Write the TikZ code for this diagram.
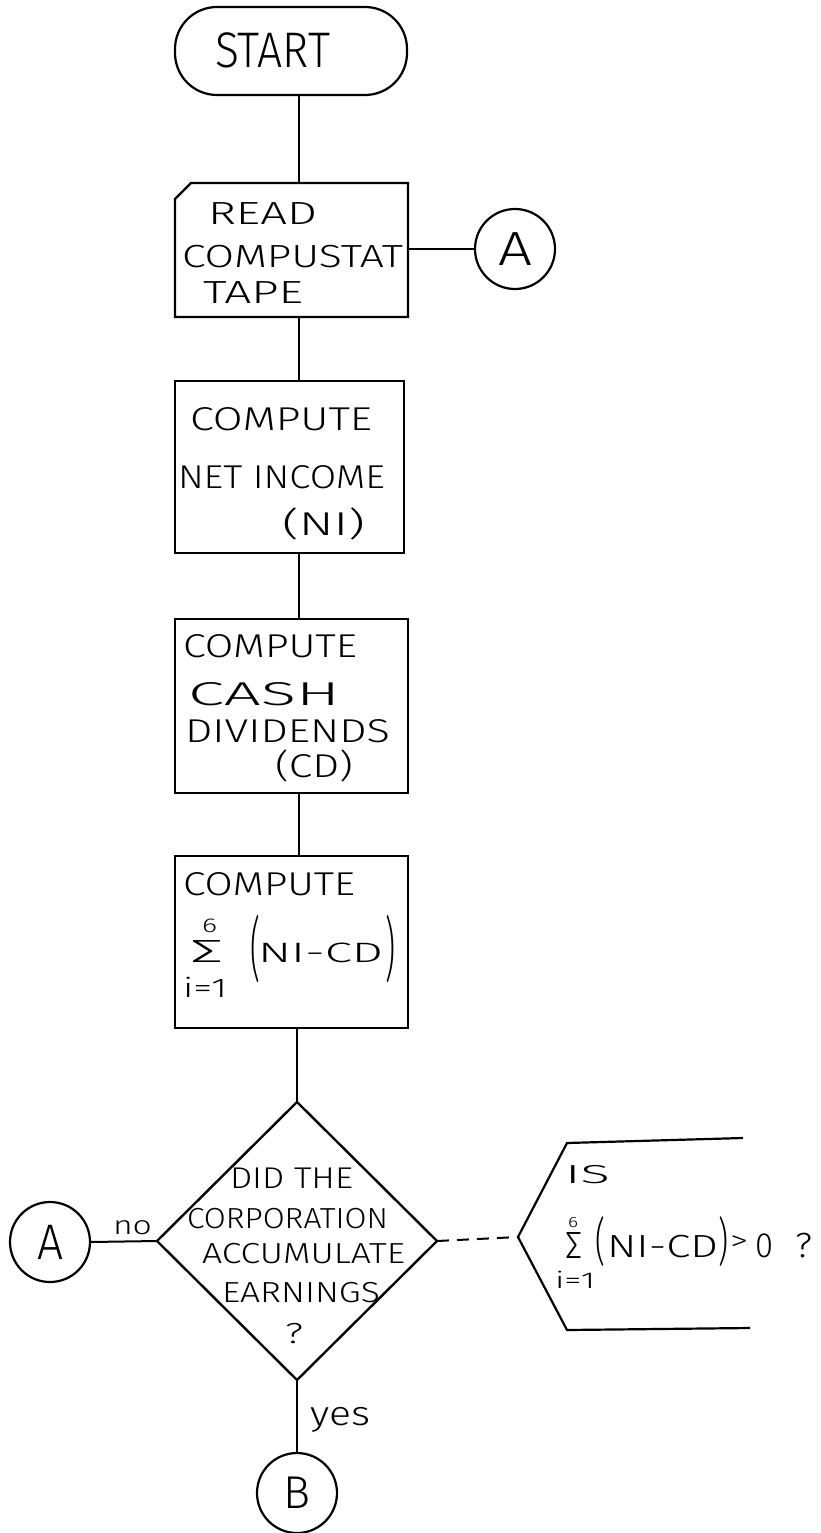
\documentclass[tikz,border=0pt]{standalone}
\usepackage{fontspec}
\usepackage{graphicx}
\setmainfont{Fira Sans Light}
\usetikzlibrary{shapes.geometric}
% stretch a line of text horizontally to a given width (in pt)
\newsavebox\fitbox
\newcommand\fitx[2]{\sbox\fitbox{#2}\pgfmathsetmacro\fitfac{#1/\the\wd\fitbox}\scalebox{\fitfac}[1]{\usebox\fitbox}}
\newcommand\fs[1]{\fontsize{#1pt}{#1pt}\selectfont}
\begin{document}
\begin{tikzpicture}[x=1pt,y=-1pt,line width=2.2pt,
  every node/.style={inner sep=0pt,outer sep=0pt},
  procbox/.style={rectangle,draw,line width=2.2pt},
  shell/.style={rectangle},
  conn/.style={circle,draw,line width=2.2pt,minimum size=80pt},
  decision/.style={diamond,draw,line width=2.4pt,minimum width=280pt,minimum height=278pt},
  txt/.style={anchor=base west},
  flow/.style={line width=2pt},
  tall/.style={anchor=north west}]
\useasboundingbox (0,0) rectangle (820,1533);

\coordinate (spine) at (299,0);

% terminal
\node[rectangle,draw,line width=2.2pt,rounded corners=42pt,minimum width=232pt,minimum height=88pt] (start) at (291,51) {};
\node[txt,font=\fs{50}] (tstart) at (215,68) {\fitx{115}{START}};

% input box with a clipped corner
\node[shell,minimum width=233pt,minimum height=134pt] (read) at (291.5,250) {};
\draw ([yshift=-16pt]read.north west) -- ([xshift=16pt]read.north west) -- (read.north east)
  -- (read.south east) -- (read.south west) -- cycle;
\node[txt,font=\fs{32}] at (208,225) {\fitx{109}{READ}};
\node[txt,font=\fs{32}] at (182,267) {\fitx{221}{COMPUSTAT}};
\node[txt,font=\fs{32}] at (203,303) {\fitx{100}{TAPE}};

\node[conn,font=\fs{48}] (ar) at (515,249) {\fitx{34}{A}};

% net income
\node[procbox,minimum width=229pt,minimum height=172pt] (ni) at (289.5,467) {};
\node[txt,font=\fs{33}] at (190,430) {\fitx{182}{COMPUTE}};
\node[txt,font=\fs{33}] at (178,488) {\fitx{207}{NET INCOME}};
\node[txt,font=\fs{33}] at (282,535) {\fitx{83}{(NI)}};

% cash dividends
\node[procbox,minimum width=233pt,minimum height=174pt] (cd) at (291.5,706) {};
\node[txt,font=\fs{33}] at (183,657) {\fitx{174}{COMPUTE}};
\node[txt,font=\fs{33}] at (188,705) {\fitx{152}{CASH}};
\node[txt,font=\fs{33}] at (185,742) {\fitx{205}{DIVIDENDS}};
\node[txt,font=\fs{33}] at (275,777) {\fitx{78}{(CD)}};

% accumulated earnings
\node[procbox,minimum width=233pt,minimum height=172pt] (sum) at (291.5,942) {};
\node[txt,font=\fs{33}] at (183,895) {\fitx{172}{COMPUTE}};
\node[anchor=south west,font=\fs{30}] at (190,962) {\resizebox{33pt}{22pt}{Σ}};
\node[txt,font=\fs{20}] at (202,932) {\fitx{15}{6}};
\node[txt,font=\fs{27}] at (183,997) {\fitx{44}{i=1}};
\node[tall,font=\fs{33}] at (250,915) {\resizebox*{10pt}{68pt}{(}};
\node[txt,font=\fs{28}] at (258,962) {\fitx{125}{NI-CD}};
\node[tall,font=\fs{33}] at (385,915) {\resizebox*{10pt}{68pt}{)}};

% decision
\node[decision] (dec) at (297,1241) {};
\node[txt,font=\fs{30}] at (230,1188) {\fitx{123}{DID THE}};
\node[txt,font=\fs{29}] at (187,1228) {\fitx{201}{CORPORATION}};
\node[txt,font=\fs{29}] at (202,1263) {\fitx{203}{ACCUMULATE}};
\node[txt,font=\fs{29}] at (222,1302) {\fitx{158}{EARNINGS}};
\node[txt,font=\fs{29}] at (285,1343) {\fitx{18}{?}};

\node[conn,font=\fs{50}] (al) at (50,1242) {\fitx{26}{A}};
\node[conn,font=\fs{46}] (b) at (297,1493) {\fitx{27}{B}};
\node[txt,font=\fs{26}] (lno) at (113,1234) {\fitx{39}{no}};
\node[txt,font=\fs{34}] (lyes) at (310,1425) {\fitx{60}{yes}};

% annotation bracket
\coordinate (t1) at (743,1138);
\coordinate (t2) at (567,1143);
\coordinate (lv) at (518,1237);
\coordinate (b2) at (567,1330);
\coordinate (b1) at (750,1328);
\draw (t1) -- (t2) -- (lv) -- (b2) -- (b1);
\node[txt,font=\fs{26}] at (565,1183) {\fitx{45}{IS}};
\node[anchor=south west,font=\fs{30}] at (565,1258) {\resizebox{17pt}{26pt}{Σ}};
\node[txt,font=\fs{15}] at (568,1227) {\fitx{10}{6}};
\node[txt,font=\fs{23}] at (555,1288) {\fitx{40}{i=1}};
\node[tall,font=\fs{33}] at (595,1217) {\resizebox*{10pt}{50pt}{(}};
\node[txt,font=\fs{32}] at (607,1257) {\fitx{111}{NI-CD}};
\node[tall,font=\fs{33}] at (718,1217) {\resizebox*{10pt}{50pt}{)}};
\node[anchor=west,font=\fs{28}] at (730,1243) {\fitx{18}{>}};
\node[txt,font=\fs{35}] at (755,1257) {\fitx{18}{0}};
\node[txt,font=\fs{35}] at (795,1257) {\fitx{17}{?}};

% connectors
\draw[flow] (start.south -| spine) -- (read.north -| spine);
\draw[flow] (read.south -| spine) -- (ni.north -| spine);
\draw[flow] (ni.south -| spine) -- (cd.north -| spine);
\draw[flow] (cd.south -| spine) -- (sum.north -| spine);
\draw[flow] (sum.south -| dec.north) -- (dec.north);
\draw[flow] (read.east |- ar.west) -- (ar.west);
\draw[flow] (dec.west) -- (al.east);
\draw[flow] (dec.south) -- (b.north);
\draw[flow,dash pattern=on 12pt off 8pt] (dec.east) -- (lv);
\end{tikzpicture}
\end{document}
